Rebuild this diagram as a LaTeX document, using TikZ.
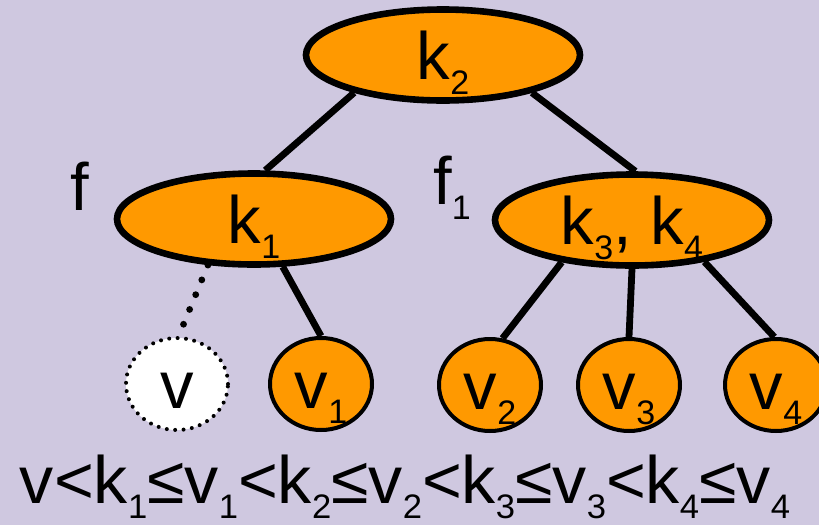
\documentclass[tikz,border=0pt]{standalone}
\usepackage{fontspec}
\setmainfont{Liberation Sans}
\usepackage{tikz}
\usetikzlibrary{shapes.geometric}

\definecolor{lavbg}{RGB}{207,200,224}
\definecolor{keyorange}{RGB}{255,153,0}
\newcommand{\lowidx}[1]{\raisebox{-7.5pt}{\fontsize{17pt}{17pt}\selectfont #1}}

\begin{document}
\begin{tikzpicture}[
  x=0.5pt, y=-0.5pt,
  txt/.style={font=\fontsize{33.5pt}{36pt}\selectfont, text height=24pt, text depth=0pt},
  keynode/.style={txt, ellipse, draw, fill=keyorange, line width=3.3pt,
                  minimum width=137pt, minimum height=45.5pt, inner sep=0pt},
  leaf/.style={txt, ellipse, draw, fill=keyorange, line width=2pt,
               minimum width=51pt, minimum height=46pt, inner sep=0pt},
  newleaf/.style={leaf, fill=white, line cap=round, dash pattern=on 0pt off 4.2pt},
  edge/.style={line width=3.4pt},
  newedge/.style={line width=3.4pt, line cap=round, dash pattern=on 0pt off 8pt}
]
\clip (0,0) rectangle (819,525);
\fill[lavbg] (0,0) rectangle (819,525);

% inner nodes
\node[keynode] (k2) at (443,55) {k\lowidx{2}};
\node[keynode] (k1) at (254,219) {k\lowidx{1}};
\node[keynode] (k34) at (632,220) {k\lowidx{3}, k\lowidx{4}};
\node[txt] (f) at (80,186) {f};
\node[txt] (f1) at (452,180) {f\lowidx{1}};

% leaves
\node[newleaf] (v) at (177,384) {v};
\node[leaf] (v1) at (321,384) {v\lowidx{1}};
\node[leaf] (v2) at (490,385) {v\lowidx{2}};
\node[leaf] (v3) at (629,385) {v\lowidx{3}};
\node[leaf] (v4) at (776,385) {v\lowidx{4}};

\draw[edge] (k2.-157) -- (k1.77);
\draw[edge] (k2.-23) -- (k34.86);
\draw[newedge] (k1.-135) -- (v.88);
\draw[edge] (k1.-59) -- (v1.90);
\draw[edge] (k34.-149) -- (v2.75);
\draw[edge] (k34.-90) -- (v3.90);
\draw[edge] (k34.-30) -- (v4.92);

\node[anchor=base, font=\fontsize{33.5pt}{36pt}\selectfont] (order) at (405,503)
  {\resizebox{385pt}{\height}{v<k\lowidx{1}≤v\lowidx{1}<k\lowidx{2}≤v\lowidx{2}<k\lowidx{3}≤v\lowidx{3}<k\lowidx{4}≤v\lowidx{4}}};
\end{tikzpicture}
\end{document}
